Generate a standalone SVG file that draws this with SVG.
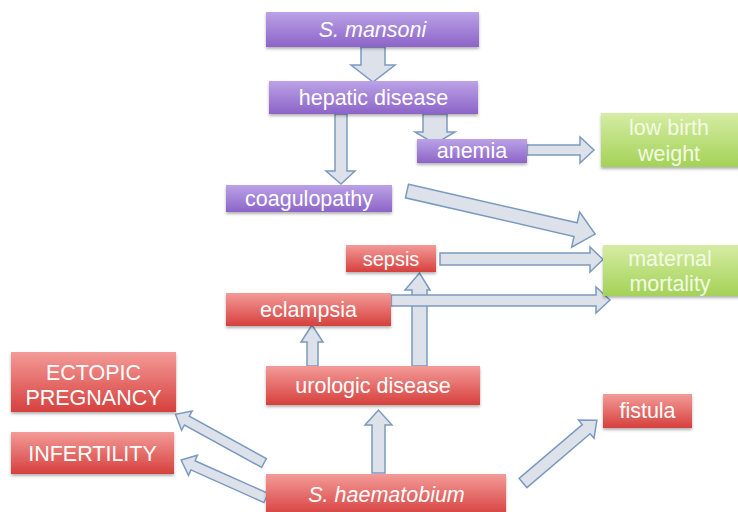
<svg xmlns="http://www.w3.org/2000/svg" width="738" height="512" viewBox="0 0 738 512">
<defs>
<linearGradient id="gP" x1="0" y1="0" x2="0" y2="1"><stop offset="0" stop-color="#bba2e6"/><stop offset="1" stop-color="#8c64c8"/></linearGradient>
<linearGradient id="gR" x1="0" y1="0" x2="0" y2="1"><stop offset="0" stop-color="#f39b98"/><stop offset="1" stop-color="#d6403d"/></linearGradient>
<linearGradient id="gG" x1="0" y1="0" x2="0" y2="1"><stop offset="0" stop-color="#d6eca4"/><stop offset="1" stop-color="#a3d257"/></linearGradient>
<filter id="sh" x="-10%" y="-20%" width="120%" height="150%"><feDropShadow dx="0" dy="2" stdDeviation="1.5" flood-color="#000" flood-opacity="0.3"/></filter>
</defs>
<style>
.p{fill:url(#gP);filter:url(#sh)}
.r{fill:url(#gR);filter:url(#sh)}
.g{fill:url(#gG);filter:url(#sh)}
text{font-family:"Liberation Sans",Arial,sans-serif;font-size:21.5px;fill:#fff;text-anchor:middle}
.it{font-style:italic}
.sm{font-size:20px}
.gt{fill:#f3fae4}
.a{fill:#dde2ea;stroke:#7b9ac0;stroke-width:1.5;stroke-linejoin:miter}
</style>
<rect width="738" height="512" fill="#fff"/>
<g id="connectors">
<polygon class="a" points="361,47 385,47 385,65 395,65 373,82 351,65 361,65"/>
<polygon class="a" points="335,114 347,114 347,171 355,171 341,184 326,171 335,171"/>
<polygon class="a" points="423,114 447,114 447,132 455,132 435,144 415,132 423,132"/>
<polygon class="a" points="527,145 580,145 580,137 594,150 580,163 580,155 527,155"/>
<polygon class="a" transform="translate(407,191) rotate(12.9)" points="0,-7 173,-7 173,-18 193,0 173,18 173,7 0,7"/>
<polygon class="a" points="440,253 590,253 590,247 603,259.5 590,272 590,265 440,265"/>
<polygon class="a" points="412,366 412,290 405,290 419.5,273 430,290 427,290 427,366"/>
<polygon class="a" points="391,295 596,295 596,287 610,300 596,313 596,306 391,306"/>
<polygon class="a" points="307,366 307,342 301,342 312,325 323,342 318,342 318,366"/>
<polygon class="a" points="372,473 372,425 365,425 378.5,410 392,425 385,425 385,473"/>
<polygon class="a" transform="translate(523,483) rotate(-40.4)" points="0,-6 83,-6 83,-12 97,0 83,12 83,6 0,6"/>
<polygon class="a" transform="translate(264,463) rotate(208.8)" points="0,-5 88,-5 88,-11 101,0 88,11 88,5 0,5"/>
<polygon class="a" transform="translate(266,498) rotate(204.1)" points="0,-5 80,-5 80,-11 93,0 80,11 80,5 0,5"/>
</g>
<g id="n-smansoni"><rect class="p" x="266" y="12" width="213" height="35"/><text class="it" x="372.5" y="37">S. mansoni</text></g>
<g id="n-hepatic"><rect class="p" x="269" y="81" width="209" height="33"/><text x="373.5" y="105">hepatic disease</text></g>
<g id="n-anemia"><rect class="p" x="417" y="139" width="110" height="24"/><text x="472" y="158">anemia</text></g>
<g id="n-lbw"><rect class="g" x="601" y="113" width="140" height="54"/><text class="gt" x="669" y="135">low birth</text><text class="gt" x="669" y="161">weight</text></g>
<g id="n-coag"><rect class="p" x="226" y="185" width="166" height="27"/><text x="309" y="206">coagulopathy</text></g>
<g id="n-sepsis"><rect class="r" x="346" y="245" width="90" height="27"/><text class="sm" x="391" y="266">sepsis</text></g>
<g id="n-mm"><rect class="g" x="603" y="245" width="138" height="51"/><text class="gt" x="670" y="266">maternal</text><text class="gt" x="670" y="291">mortality</text></g>
<g id="n-eclampsia"><rect class="r" x="226" y="293" width="165" height="33"/><text x="308.5" y="317">eclampsia</text></g>
<g id="n-ectopic"><rect class="r" x="11" y="352" width="165" height="60"/><text x="93.5" y="380">ECTOPIC</text><text x="93.5" y="405">PREGNANCY</text></g>
<g id="n-urologic"><rect class="r" x="266" y="366" width="214" height="39"/><text x="373" y="393">urologic disease</text></g>
<g id="n-infertility"><rect class="r" x="11" y="432" width="163" height="42"/><text x="92.5" y="461">INFERTILITY</text></g>
<g id="n-fistula"><rect class="r" x="603" y="394" width="89" height="34"/><text x="647.5" y="418">fistula</text></g>
<g id="n-shaem"><rect class="r" x="266" y="474" width="240" height="42"/><text class="it" x="386.5" y="502">S. haematobium</text></g>
</svg>
